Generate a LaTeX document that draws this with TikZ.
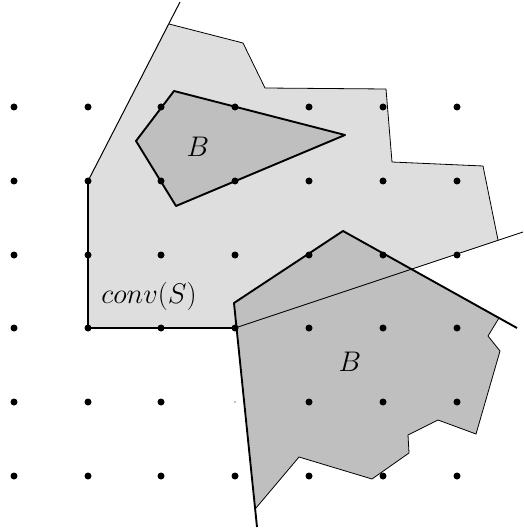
\documentclass[tikz,border=0pt]{standalone}
\usepackage{graphicx}
\begin{document}
\begin{tikzpicture}[x=1pt,y=-1pt,
  thinline/.style={line width=0.8pt},
  thickline/.style={line width=1.9pt},
  gdot/.style={fill=black,radius=3.5pt},
  lbl/.style={font=\fontsize{24.88}{30}\selectfont}]
\useasboundingbox (0,0) rectangle (523,529);
\definecolor{lightg}{gray}{0.87}
\definecolor{darkg}{gray}{0.75}
% light region conv(S)
\fill[lightg] (88,328) -- (88,181) -- (169,24) -- (243,43) -- (265,88) -- (386,89) -- (392,162) -- (483,166) -- (498,240) -- (235,328) -- cycle;
% dark regions
\fill[darkg] (174,91) -- (345,135) -- (176,206) -- (136,141) -- cycle;
\fill[darkg] (235,303) -- (343,231) -- (499,318) -- (488,336) -- (500,351) -- (476,434) -- (438,420) -- (408,435) -- (409,453) -- (372,479) -- (299,457) -- (256,508) -- cycle;
% light region borders
\draw[thinline] (169,24) -- (243,43) -- (265,88) -- (386,89) -- (392,162) -- (483,166) -- (498,240);
\draw[line width=1pt] (180,2) -- (88,181);
\draw[thinline] (235,328) -- (523,232);
\draw[line width=1.4pt] (88,181) -- (88,328) -- (235,328);
% B borders
\draw[thickline,line join=round] (174,91) -- (345,135) -- (176,206) -- (136,141) -- cycle;
\draw[thinline] (499,318) -- (488,336) -- (500,351) -- (476,434) -- (438,420) -- (408,435) -- (409,453) -- (372,479) -- (299,457) -- (256,508);
\draw[thickline,line join=round] (257,527) -- (234,303) -- (343,231) -- (517,328);
% lattice points
\foreach \x in {14,88,161,235,309,383,457}
  \foreach \y in {107,181,255,328,476}
    \fill[gdot] (\x,\y) circle;
\foreach \x in {14,88,161,309,383,457}
  \fill[gdot] (\x,402) circle;
\fill (235,402) circle[radius=0.7pt];
% labels
\node[lbl] (bone) at (198,147) {\scalebox{1.14}{$B$}};
\node[lbl] (btwo) at (350,362) {\scalebox{1.14}{$B$}};
\node[lbl] (conv) at (149,296) {\scalebox{1.14}{$conv(S)$}};
\end{tikzpicture}
\end{document}
